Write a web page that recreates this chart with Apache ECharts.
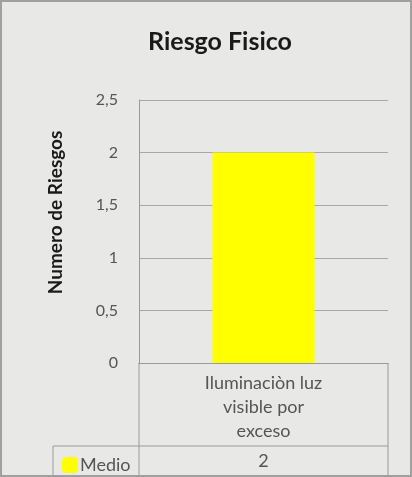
<!DOCTYPE html>
<html>
<head>
<meta charset="utf-8">
<script src="https://cdn.jsdelivr.net/npm/echarts@6/dist/echarts.min.js"></script>
<style>
    html, body { margin: 0; padding: 0; background: #fff; }
    #chart { width: 412px; height: 477px; }
</style>
</head>
<body>
<div id="chart"></div>
<script>
var categories = ['Iluminaciòn luz\nvisible por\nexceso'];
var seriesName = 'Medio';
var values = [2];
var yTicks = [0, 0.5, 1, 1.5, 2, 2.5];

var lineColor = '#9a9a9a';

var option = {
    backgroundColor: '#e8e8e6',
    animation: false,
    title: {
        text: 'Riesgo Fisico',
        left: 215,
        top: 24,
        textAlign: 'center',
        textStyle: {
            fontFamily: 'Lato',
            fontSize: 25,
            fontWeight: 'bold',
            color: '#1a1a1a'
        }
    },
    legend: {
        left: 57,
        top: 451,
        itemWidth: 16,
        itemHeight: 16,
        itemGap: 4,
        icon: 'roundRect',
        textStyle: {
            fontFamily: 'Lato',
            fontSize: 18,
            color: '#555',
            padding: [0, 0, 0, -3]
        },
        data: [seriesName]
    },
    grid: {
        left: 139,
        right: 24,
        top: 100,
        bottom: 114
    },
    xAxis: [{
        type: 'category',
        data: categories,
        axisLine: { show: true, lineStyle: { color: lineColor } },
        axisTick: { show: false },
        axisLabel: {
            margin: 8,
            fontFamily: 'Lato',
            fontSize: 18,
            lineHeight: 24,
            color: '#555'
        }
    }, {
        type: 'category',
        position: 'bottom',
        offset: 83,
        data: values.map(String),
        axisLine: { show: false },
        axisTick: { show: false },
        axisLabel: {
            margin: 6,
            fontFamily: 'Lato',
            fontSize: 18,
            color: '#555'
        }
    }],
    yAxis: {
        type: 'value',
        min: yTicks[0],
        max: yTicks[yTicks.length - 1],
        interval: 0.5,
        name: 'Numero de Riesgos',
        nameLocation: 'middle',
        nameGap: 74,
        nameTextStyle: {
            fontFamily: 'Lato',
            fontSize: 19,
            fontWeight: 'bold',
            color: '#1a1a1a',
            padding: [0, 0, 0, 38]
        },
        axisLine: { show: true, lineStyle: { color: lineColor } },
        axisTick: { show: false },
        axisLabel: {
            margin: 21,
            fontFamily: 'Lato',
            fontSize: 16,
            color: '#555',
            formatter: function (v) { return String(v).replace('.', ','); }
        },
        splitLine: { lineStyle: { color: '#a8a8a8' } }
    },
    series: [{
        name: seriesName,
        type: 'bar',
        data: values,
        barWidth: '41%',
        itemStyle: { color: '#ffff00' }
    }],
    graphic: [
        { type: 'rect', shape: { x: 1, y: 1, width: 410, height: 475 },
          style: { fill: 'none', stroke: '#a0a0a0', lineWidth: 2 } },
        { type: 'line', shape: { x1: 139, y1: 363, x2: 139, y2: 476 },
          style: { stroke: lineColor, lineWidth: 1 } },
        { type: 'line', shape: { x1: 388, y1: 363, x2: 388, y2: 476 },
          style: { stroke: lineColor, lineWidth: 1 } },
        { type: 'line', shape: { x1: 53, y1: 446, x2: 388, y2: 446 },
          style: { stroke: lineColor, lineWidth: 1 } },
        { type: 'line', shape: { x1: 53, y1: 446, x2: 53, y2: 476 },
          style: { stroke: lineColor, lineWidth: 1 } }
    ]
};

var myChart = echarts.init(document.getElementById('chart'));
myChart.setOption(option);
</script>
</body>
</html>
